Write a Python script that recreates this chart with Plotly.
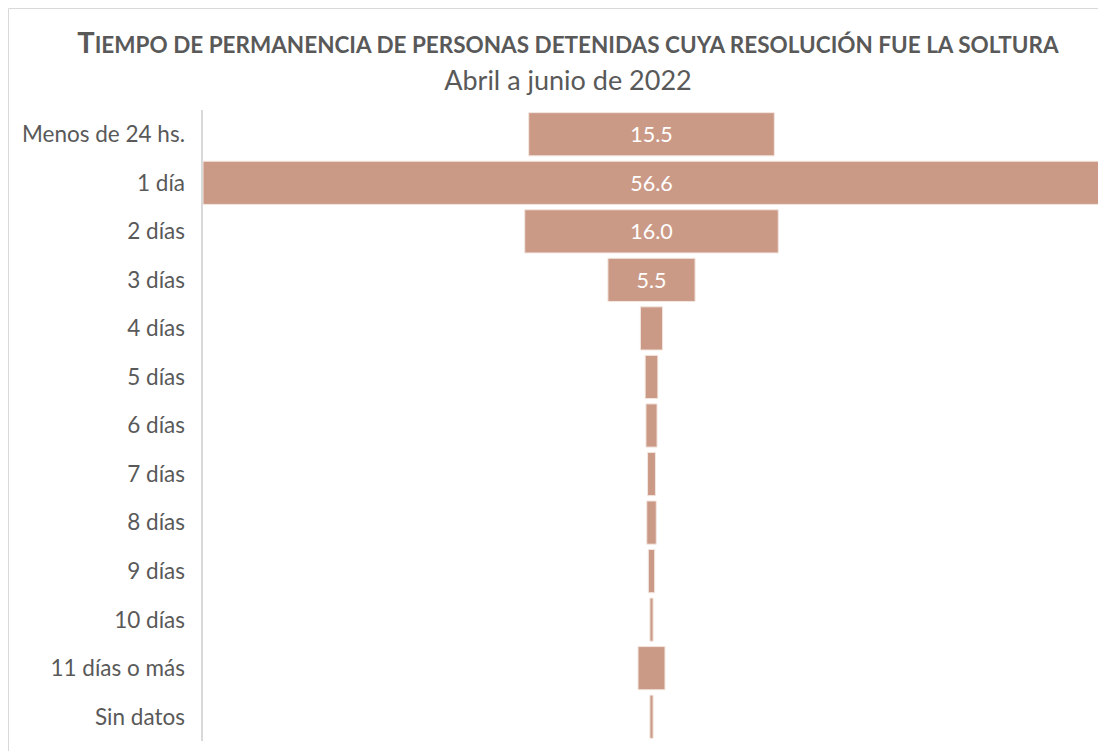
import plotly.graph_objects as go

categorias = ["Menos de 24 hs.", "1 día", "2 días", "3 días", "4 días", "5 días", "6 días",
              "7 días", "8 días", "9 días", "10 días", "11 días o más", "Sin datos"]
porcentajes = [15.5, 56.6, 16.0, 5.5, 1.4, 0.8, 0.7, 0.5, 0.6, 0.4, 0.2, 1.7, 0.2]

# la página deja 8 px de margen en el body
W, H = 1098, 743
ML, MR, MT, MB = 195, 6, 102, 10
gris = "#595959"
font = "Lato"

# solo se rotulan las barras anchas, como en el original
etiquetas = [f"{v:.1f}" if v >= 5 else "" for v in porcentajes]

fig = go.Figure(go.Funnel(
    y=categorias, x=porcentajes, text=etiquetas, textinfo="text",
    textposition="inside", insidetextanchor="middle",
    textfont=dict(color="white", size=21.5, family=font),
    marker=dict(color="#CB9A87", line=dict(color="#F3E6E0", width=1)),
    connector=dict(visible=False), hoverinfo="y+x",
))

half = max(porcentajes) / 2
pw, ph = W - ML - MR, H - MT - MB
px = lambda x: (x - ML) / pw
py = lambda y: (H - MB - y) / ph

titulo = ("<b>T<span style='font-size:22.5px'>IEMPO DE PERMANENCIA DE PERSONAS DETENIDAS CUYA "
          "RESOLUCIÓN FUE LA SOLTURA</span></b><br><span style='font-size:27px'>Abril a junio de 2022</span>")

fig.update_layout(
    width=W, height=H, margin=dict(l=ML, r=MR, t=MT, b=MB),
    paper_bgcolor="white", plot_bgcolor="white", showlegend=False,
    font=dict(family=font, color=gris),
    title=dict(text=titulo, x=0.51, xanchor="center", y=0.94, yanchor="top",
               font=dict(size=29, color=gris, family=font)),
    xaxis=dict(visible=False, range=[-half, half], automargin=False),
    yaxis=dict(showline=True, linecolor="#D9D9D9", linewidth=2, ticks="", ticklen=0,
               tickfont=dict(size=22.5, color=gris, family=font), ticksuffix="  ",
               showgrid=False, automargin=False),
    funnelgap=0.11,
    shapes=[
        dict(type="line", xref="paper", yref="paper", x0=px(0.5), x1=px(0.5), y0=py(0.5), y1=py(H),
             line=dict(color="#D9D9D9", width=1)),
        dict(type="line", xref="paper", yref="paper", x0=px(0.5), x1=px(W), y0=py(0.5), y1=py(0.5),
             line=dict(color="#D9D9D9", width=1)),
    ],
)

fig.write_html("out.html")
